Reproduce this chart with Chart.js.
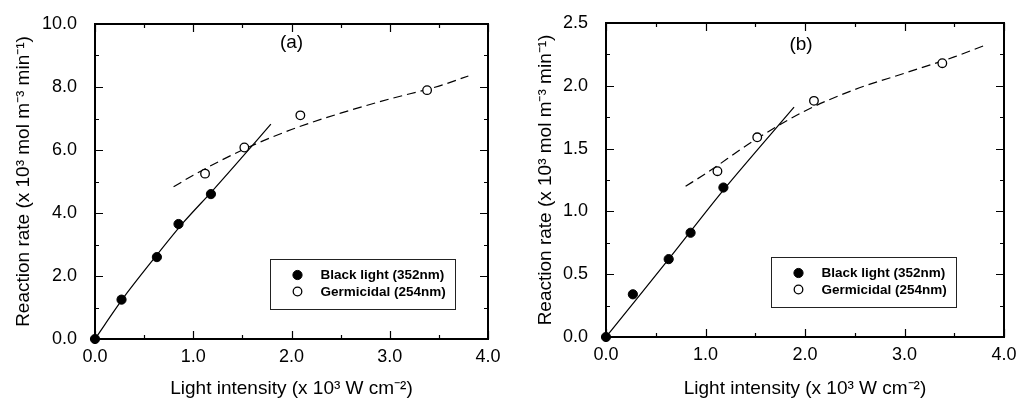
<!DOCTYPE html>
<html><head><meta charset="utf-8">
<script src="https://cdn.jsdelivr.net/npm/chart.js@4/dist/chart.umd.min.js"></script>
<style>
html,body{margin:0;padding:0;background:#fff;}
#wrap{position:relative;width:1017px;height:398px;overflow:hidden;}
.c{position:absolute;top:0;height:398px;}
</style></head><body>
<div id="wrap">
<div class="c" style="left:0;width:508px"><canvas id="ca"></canvas></div>
<div class="c" style="left:508px;width:509px"><canvas id="cb"></canvas></div>
</div>
<script>
// ---------- data ----------
const xTickValues = [0, 1, 2, 3, 4];
const yTickValuesA = [0, 2, 4, 6, 8, 10];
const yTickValuesB = [0, 0.5, 1, 1.5, 2, 2.5];
const panelLabels = ['(a)', '(b)'];
const seriesLabels = ['Black light (352nm)', 'Germicidal (254nm)'];
const xTitle = 'Light intensity (x 10\u00B3 W cm\u207B\u00B2)';
const yTitle = 'Reaction rate (x 10\u00B3 mol m\u207B\u00B3 min\u207B\u00B9)';

const blackX = [0, 0.27, 0.63, 0.85, 1.18];
const blackYA = [0, 1.25, 2.6, 3.65, 4.6];
const blackYB = [0, 0.34, 0.62, 0.83, 1.19];

const germX = [1.12, 1.52, 2.09, 3.38];
const germYA = [5.25, 6.08, 7.1, 7.9];
const germYB = [1.32, 1.59, 1.88, 2.18];

const solidXA = [0, 0.3, 0.6, 0.9, 1.2, 1.5, 1.79];
const solidYA = [0, 1.35, 2.55, 3.7, 4.72, 5.78, 6.82];
const solidXB = [0, 0.63, 1.18, 1.89];
const solidYB = [0, 0.62, 1.17, 1.83];

const dashX = [0.8, 1.0, 1.5, 2.0, 2.5, 3.0, 3.5, 3.8];
const dashYA = [4.83, 5.2, 6.0, 6.65, 7.17, 7.62, 8.03, 8.35];
const dashYB = [1.2, 1.3, 1.57, 1.8, 1.97, 2.1, 2.23, 2.32];

// ---------- helpers ----------
const FONT = '"Liberation Sans", Arial, Helvetica, sans-serif';
const zip = (xs, ys) => xs.map((x, i) => ({x: x, y: ys[i]}));

const framePlugin = {
  id: 'frame',
  afterDatasetsDraw(chart, args, opts) {
    const ctx = chart.ctx, a = chart.chartArea;
    const xs = chart.scales.x, ys = chart.scales.y;
    ctx.save();
    ctx.strokeStyle = '#000';
    ctx.lineWidth = 1.2;
    const xv = opts.xTicks, yv = opts.yTicks;
    const drawX = (v, len) => {
      const p = Math.round(xs.getPixelForValue(v)) + 0.5;
      ctx.beginPath();
      ctx.moveTo(p, a.bottom); ctx.lineTo(p, a.bottom - len);
      ctx.moveTo(p, a.top); ctx.lineTo(p, a.top + len);
      ctx.stroke();
    };
    const drawY = (v, len) => {
      const p = Math.round(ys.getPixelForValue(v)) + 0.5;
      ctx.beginPath();
      ctx.moveTo(a.left, p); ctx.lineTo(a.left + len, p);
      ctx.moveTo(a.right, p); ctx.lineTo(a.right - len, p);
      ctx.stroke();
    };
    for (let i = 0; i < xv.length; i++) {
      drawX(xv[i], 8);
      if (i < xv.length - 1) drawX((xv[i] + xv[i + 1]) / 2, 4);
    }
    for (let i = 0; i < yv.length; i++) {
      drawY(yv[i], 8);
      if (i < yv.length - 1) drawY((yv[i] + yv[i + 1]) / 2, 4);
    }
    ctx.lineWidth = 2;
    ctx.strokeRect(a.left, a.top, a.right - a.left, a.bottom - a.top);
    ctx.fillStyle = '#000';
    ctx.font = '19px ' + FONT;
    ctx.textAlign = 'center';
    ctx.textBaseline = 'middle';
    ctx.fillText(opts.panel, (a.left + a.right) / 2 + opts.panelDx, a.top + opts.panelDy);
    const L = opts.legend;
    const bx = a.left + L.dx, by = a.top + L.dy;
    ctx.lineWidth = 1;
    ctx.strokeStyle = '#222';
    ctx.strokeRect(bx + 0.5, by + 0.5, L.w, L.h);
    ctx.font = 'bold 13.5px ' + FONT;
    ctx.textAlign = 'left';
    const items = chart.data.datasets.filter(d => d.legendOrder !== undefined)
      .sort((p, q) => p.legendOrder - q.legendOrder);
    items.forEach((d, i) => {
      const cy = by + 16 + i * 16.5;
      ctx.beginPath();
      ctx.arc(bx + 27.5, cy, d.pointRadius, 0, Math.PI * 2);
      ctx.fillStyle = d.backgroundColor;
      ctx.fill();
      ctx.lineWidth = d.borderWidth;
      ctx.strokeStyle = d.borderColor;
      ctx.stroke();
      ctx.fillStyle = '#000';
      ctx.fillText(d.label, bx + 50.5, cy + 0.5);
    });
    ctx.restore();
  }
};

function makeChart(id, cfg) {
  return new Chart(document.getElementById(id), {
    type: 'scatter',
    data: {
      datasets: [
        {label: 'solid fit', data: zip(cfg.solidX, cfg.solidY), showLine: true, borderColor: '#000',
         borderWidth: 1.2, pointRadius: 0, fill: false, tension: 0.3, order: 4},
        {label: 'dashed fit', data: zip(dashX, cfg.dashY), showLine: true, borderColor: '#000',
         borderWidth: 1.2, borderDash: [9, 5], pointRadius: 0, fill: false, cubicInterpolationMode: 'monotone', order: 3},
        {label: seriesLabels[1], legendOrder: 1, data: zip(germX, cfg.germY), pointRadius: 4.3,
         pointStyle: 'circle', backgroundColor: '#fff', borderColor: '#000', borderWidth: 1.3, order: 2},
        {label: seriesLabels[0], legendOrder: 0, data: zip(blackX, cfg.blackY), pointRadius: 4.6,
         pointStyle: 'circle', backgroundColor: '#000', borderColor: '#000', borderWidth: 1, clip: false, order: 1}
      ]
    },
    options: {
      responsive: true, maintainAspectRatio: false, animation: false, events: [],
      layout: {padding: {left: 0, right: cfg.padRight, top: cfg.padTop, bottom: 0}},
      plugins: {
        legend: {display: false}, tooltip: {enabled: false},
        frame: {xTicks: xTickValues, yTicks: cfg.yTicks, panel: cfg.panel, panelDx: cfg.panelDx, panelDy: cfg.panelDy,
                legend: cfg.legend}
      },
      scales: {
        x: {
          type: 'linear', min: 0, max: 4,
          afterFit: s => { s.height = cfg.xAxisH; },
          afterBuildTicks: s => { s.ticks = xTickValues.map(v => ({value: v})); },
          grid: {display: false}, border: {display: false},
          ticks: {callback: v => v.toFixed(1), padding: -1, color: '#000', maxRotation: 0, autoSkip: false,
                  font: {family: FONT, size: 18}},
          title: {display: true, text: xTitle, color: '#000', font: {family: FONT, size: 19, lineHeight: 1},
                  padding: {top: 0, bottom: 0}}
        },
        y: {
          type: 'linear', min: cfg.yTicks[0], max: cfg.yTicks[cfg.yTicks.length - 1],
          afterFit: s => { s.width = cfg.yAxisW; },
          afterBuildTicks: s => { s.ticks = cfg.yTicks.map(v => ({value: v})); },
          grid: {display: false}, border: {display: false},
          ticks: {callback: v => v.toFixed(1), padding: 10, color: '#000', autoSkip: false,
                  font: {family: FONT, size: 18}},
          title: {display: true, text: yTitle, color: '#000', font: {family: FONT, size: 19, lineHeight: 1},
                  padding: {top: cfg.yTitlePad, bottom: 0}}
        }
      }
    },
    plugins: [framePlugin]
  });
}

makeChart('ca', {
  solidX: solidXA, solidY: solidYA, dashY: dashYA, germY: germYA, blackY: blackYA,
  yTicks: yTickValuesA, panel: panelLabels[0], panelDx: 0, panelDy: 19,
  padRight: 20, padTop: 24, xAxisH: 59, yAxisW: 95, yTitlePad: 14,
  legend: {dx: 175, dy: 235, w: 185, h: 50}
});
makeChart('cb', {
  solidX: solidXB, solidY: solidYB, dashY: dashYB, germY: germYB, blackY: blackYB,
  yTicks: yTickValuesB, panel: panelLabels[1], panelDx: -4, panelDy: 22,
  padRight: 13, padTop: 23, xAxisH: 61, yAxisW: 98, yTitlePad: 28,
  legend: {dx: 165, dy: 234, w: 185, h: 50}
});
</script>
</body></html>
